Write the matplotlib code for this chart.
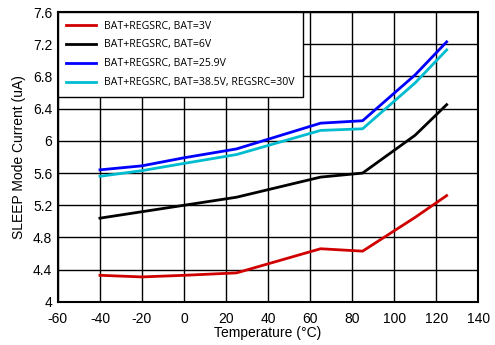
import matplotlib
matplotlib.use("Agg")
import matplotlib.pyplot as plt

# Temperatures and sleep-current values (uA)
temp = [-40, -20, 0, 25, 65, 85, 110, 125]
bat_3v = [4.33, 4.31, 4.33, 4.36, 4.66, 4.63, 5.05, 5.32]
bat_6v = [5.04, 5.12, 5.20, 5.30, 5.55, 5.60, 6.07, 6.45]
bat_25v9 = [5.64, 5.69, 5.79, 5.90, 6.22, 6.25, 6.82, 7.23]
bat_38v5 = [5.56, 5.63, 5.72, 5.83, 6.13, 6.15, 6.72, 7.13]

labels = ["BAT+REGSRC, BAT=3V", "BAT+REGSRC, BAT=6V",
          "BAT+REGSRC, BAT=25.9V", "BAT+REGSRC, BAT=38.5V, REGSRC=30V"]
colors = ["#d00000", "#000000", "#0000ff", "#00bcd0"]

plt.rcParams['font.family'] = ['Liberation Sans', 'DejaVu Sans']
plt.rcParams['axes.unicode_minus'] = False

fig = plt.figure(figsize=(4.95, 3.45), dpi=100)
ax = fig.add_axes([0.117, 0.125, 0.849, 0.84])

for y, lab, c in zip([bat_3v, bat_6v, bat_25v9, bat_38v5], labels, colors):
    ax.plot(temp, y, color=c, linewidth=2, label=lab, zorder=3)

ax.set_xlim(-60, 140)
ax.set_ylim(4, 7.6)
ax.set_xticks(range(-60, 141, 20))
ax.set_yticks([4, 4.4, 4.8, 5.2, 5.6, 6, 6.4, 6.8, 7.2, 7.6])
ax.set_yticklabels(["4", "4.4", "4.8", "5.2", "5.6", "6", "6.4", "6.8", "7.2", "7.6"])
ax.grid(True, color="black", linewidth=1)
ax.tick_params(labelsize=10, length=0)
ax.tick_params(axis='x', pad=7)
ax.tick_params(axis='y', pad=4)
for s in ax.spines.values():
    s.set_linewidth(1.5)
ax.set_xlabel("Temperature (°C)", fontsize=10, labelpad=0)
ax.set_ylabel("SLEEP Mode Current (uA)", fontsize=10, labelpad=5)

leg = ax.legend(loc="upper left", frameon=True, fancybox=False,
                borderaxespad=0, handlelength=2.8, labelspacing=0.75,
                borderpad=0.8, framealpha=1, prop={'family': 'Open Sans', 'size': 7.6})
leg.get_frame().set_edgecolor("black")
leg.get_frame().set_linewidth(1)
leg.set_zorder(5)

plt.savefig("out.png", dpi=100)
